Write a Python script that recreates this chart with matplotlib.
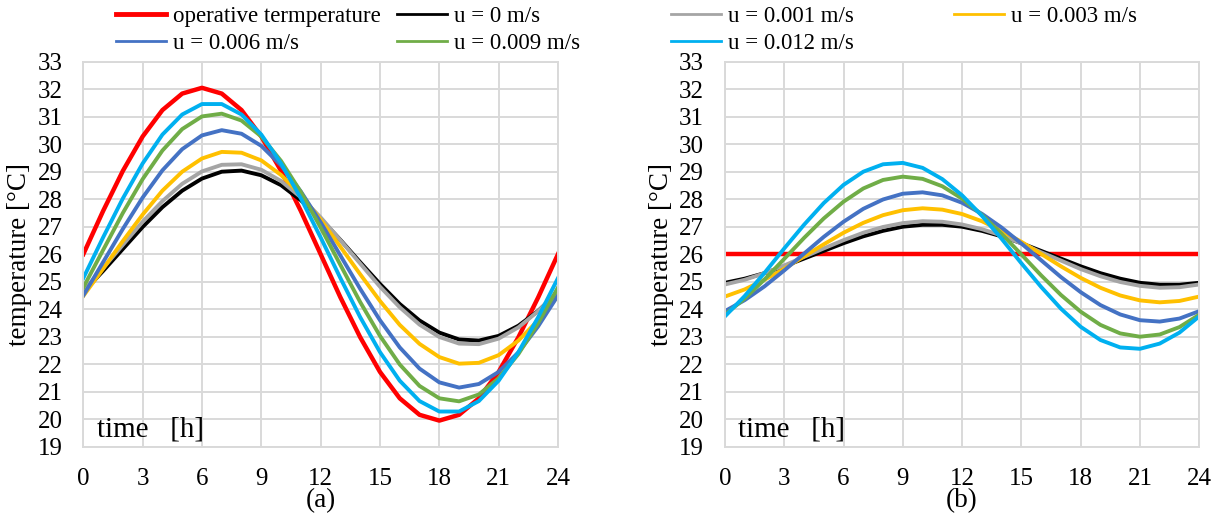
import matplotlib
matplotlib.use("Agg")
import matplotlib.pyplot as plt
from matplotlib.lines import Line2D

plt.rcParams['font.family'] = ['Liberation Serif', 'DejaVu Serif']

# Data: hourly readings of the curves
hours = list(range(25))
x_ticks = [0, 3, 6, 9, 12, 15, 18, 21, 24]
y_ticks = list(range(19, 34))

labels = ["operative termperature", "u = 0 m/s", "u = 0.001 m/s", "u = 0.003 m/s",
          "u = 0.006 m/s", "u = 0.009 m/s", "u = 0.012 m/s"]
colors = ["#FF0000", "#000000", "#A5A5A5", "#FFC000", "#4472C4", "#70AD47", "#00B0F0"]

# panel (a)
a_operative = [26.00, 27.57, 29.03, 30.28, 31.24, 31.84, 32.05, 31.84, 31.24, 30.28, 29.03, 27.57, 26.00,
               24.43, 22.98, 21.72, 20.76, 20.16, 19.95, 20.16, 20.76, 21.72, 22.98, 24.43, 26.00]
a_u0000 = [24.62, 25.39, 26.19, 26.99, 27.71, 28.31, 28.75, 29.00, 29.04, 28.87, 28.51, 27.96, 27.29,
           26.52, 25.71, 24.92, 24.19, 23.59, 23.15, 22.90, 22.86, 23.03, 23.40, 23.94, 24.62]
a_u0001 = [24.66, 25.49, 26.34, 27.18, 27.93, 28.56, 29.01, 29.25, 29.27, 29.07, 28.66, 28.07, 27.34,
           26.51, 25.66, 24.82, 24.07, 23.44, 22.99, 22.75, 22.73, 22.93, 23.34, 23.93, 24.66]
a_u0003 = [24.48, 25.47, 26.48, 27.44, 28.31, 29.00, 29.48, 29.72, 29.69, 29.41, 28.88, 28.15, 27.26,
           26.27, 25.27, 24.30, 23.43, 22.74, 22.26, 22.02, 22.05, 22.33, 22.86, 23.60, 24.48]
a_u0006 = [24.50, 25.71, 26.92, 28.06, 29.05, 29.82, 30.32, 30.51, 30.38, 29.94, 29.23, 28.28, 27.16,
           25.95, 24.74, 23.60, 22.61, 21.84, 21.34, 21.15, 21.28, 21.72, 22.43, 23.38, 24.50]
a_u0009 = [24.79, 26.15, 27.50, 28.73, 29.77, 30.55, 31.01, 31.11, 30.86, 30.28, 29.39, 28.26, 26.97,
           25.61, 24.26, 23.03, 21.99, 21.21, 20.76, 20.65, 20.90, 21.49, 22.37, 23.50, 24.79]
a_u0012 = [25.13, 26.61, 28.03, 29.30, 30.35, 31.08, 31.46, 31.46, 31.08, 30.35, 29.30, 28.03, 26.61,
           25.13, 23.71, 22.44, 21.40, 20.66, 20.28, 20.28, 20.66, 21.40, 22.44, 23.71, 25.13]

# panel (b)
b_operative = [26.00] * 25
b_u0000 = [24.96, 25.11, 25.31, 25.56, 25.84, 26.12, 26.40, 26.65, 26.85, 27.00, 27.07, 27.07, 27.00,
           26.85, 26.65, 26.40, 26.12, 25.84, 25.56, 25.31, 25.11, 24.96, 24.89, 24.89, 24.96]
b_u0001 = [24.90, 25.07, 25.31, 25.59, 25.90, 26.21, 26.51, 26.78, 26.99, 27.13, 27.20, 27.18, 27.08,
           26.91, 26.68, 26.39, 26.07, 25.77, 25.46, 25.20, 24.99, 24.85, 24.78, 24.80, 24.90]
b_u0003 = [24.46, 24.72, 25.07, 25.47, 25.92, 26.36, 26.78, 27.14, 27.42, 27.60, 27.67, 27.62, 27.46,
           27.20, 26.85, 26.45, 26.01, 25.56, 25.14, 24.78, 24.50, 24.32, 24.25, 24.30, 24.46]
b_u0006 = [23.93, 24.33, 24.83, 25.41, 26.02, 26.63, 27.18, 27.65, 27.99, 28.20, 28.25, 28.14, 27.87,
           27.47, 26.97, 26.39, 25.78, 25.17, 24.62, 24.15, 23.81, 23.60, 23.55, 23.66, 23.93]
b_u0009 = [23.80, 24.39, 25.08, 25.83, 26.59, 27.30, 27.91, 28.39, 28.70, 28.82, 28.74, 28.47, 28.02,
           27.43, 26.74, 25.99, 25.23, 24.52, 23.91, 23.43, 23.12, 23.00, 23.08, 23.35, 23.80]
b_u0012 = [23.74, 24.48, 25.32, 26.21, 27.07, 27.86, 28.52, 29.00, 29.27, 29.32, 29.14, 28.73, 28.14,
           27.40, 26.56, 25.67, 24.81, 24.02, 23.36, 22.88, 22.61, 22.56, 22.75, 23.15, 23.74]

panel_a = [a_operative, a_u0000, a_u0001, a_u0003, a_u0006, a_u0009, a_u0012]
panel_b = [b_operative, b_u0000, b_u0001, b_u0003, b_u0006, b_u0009, b_u0012]

FS_LEG = 16.5
FS_TICK = 18
FS_LAB = 19.5
GRID = "#D9D9D9"

fig = plt.figure(figsize=(12.18, 5.15), dpi=100)
ax_a = fig.add_axes([0.0684, 0.1326, 0.3897, 0.7476])
ax_b = fig.add_axes([0.5952, 0.1326, 0.3894, 0.7476])

for ax, series, tag in [(ax_a, panel_a, "(a)"), (ax_b, panel_b, "(b)")]:
    for vals, c in zip(series, colors):
        lw = 3.2 if c == "#FF0000" else 2.8
        ax.plot(hours, vals, color=c, lw=lw)
    ax.set_xlim(0, 24)
    ax.set_ylim(19, 33)
    ax.set_xticks(x_ticks)
    ax.set_yticks(y_ticks)
    ax.grid(True, color=GRID, lw=1.4)
    ax.set_axisbelow(True)
    for sp in ax.spines.values():
        sp.set_color(GRID)
        sp.set_linewidth(1.4)
    ax.tick_params(length=0, labelsize=FS_TICK)
    ax.tick_params(axis='x', pad=15)
    ax.tick_params(axis='y', pad=15)
    ax.set_ylabel("temperature [°C]", fontsize=FS_LAB)
    ax.yaxis.set_label_coords(-0.108, 0.5)
    ax.text(0.028, 0.045, "time   [h]", transform=ax.transAxes, fontsize=FS_LAB + 1.5,
            va='center', ha='left')
    pos = ax.get_position()
    fig.text(pos.x0 + pos.width / 2, 0.028, tag, fontsize=FS_LAB, ha='center', va='center')

# legend laid out in four columns like the original
columns = [[0, 4], [1, 5], [2, 6], [3]]
col_x = [116, 397, 671, 954]
for idx, x in zip(columns, col_x):
    handles = [Line2D([], [], color=colors[i], lw=3.5 if i == 0 else 2.0) for i in idx]
    fig.legend(handles, [labels[i] for i in idx], loc='upper left',
               bbox_to_anchor=(x / 1218, 1 - 6 / 515), frameon=False, fontsize=FS_LEG,
               handlelength=2.2, handletextpad=0.3, borderpad=0, borderaxespad=0,
               labelspacing=0.27)

fig.savefig("out.png", dpi=100)
